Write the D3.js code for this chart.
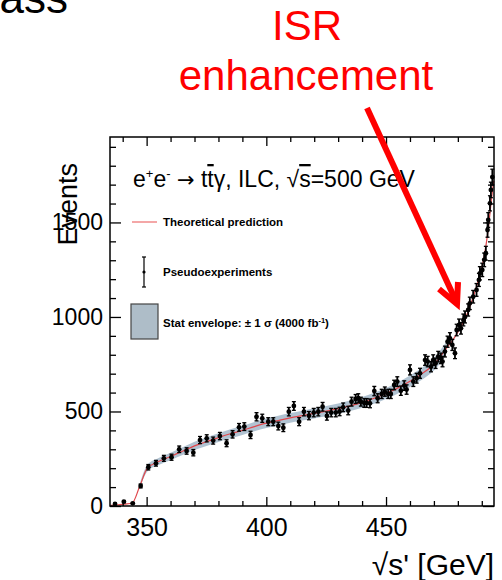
<!DOCTYPE html>
<html><head><meta charset="utf-8">
<script src="https://cdn.jsdelivr.net/npm/d3@7"></script>
<style>
body{margin:0;background:#fff}
svg{display:block}
text{font-family:"Liberation Sans",Arial,Helvetica,sans-serif}
</style>
</head><body>
<svg id="c" width="502" height="580"></svg>
<script>
// ---- data ----
const pseudoX = [336.8,340.5,344.2,347.5,350.7,353.9,357.2,360.4,363.6,366.7,369.5,372.3,375.1,377.8,380.6,383.4,385.9,388.6,390.8,393.4,395.9,398.3,400.8,402.9,405.0,407.1,409.4,411.5,413.7,415.7,417.8,419.8,421.7,423.5,425.3,427.1,429.0,430.6,432.1,434.2,435.6,437.3,438.4,439.5,440.9,441.9,443.3,445.1,446.5,448.2,449.5,450.9,452.0,453.4,454.7,456.2,457.6,458.6,460.0,461.4,462.8,464.2,466.3,467.4,468.8,469.7,470.7,471.8,472.9,473.6,474.6,475.7,476.7,477.7,478.8,479.5,480.5,481.3,482.3,483.0,484.3,485.0,486.4,487.8,488.8,489.2,490.2,491.0,491.7,492.4,492.7,493.4,493.8,494.4];
const pseudoY = [11,23,14,106,205,226,252,258,300,291,282,349,358,346,370,332,379,416,420,376,472,464,446,446,423,414,499,529,446,499,478,494,499,525,476,494,494,500,522,505,552,566,570,552,545,545,543,608,570,593,605,593,593,640,658,610,637,616,720,658,676,702,772,764,737,772,755,790,781,764,817,869,887,852,808,931,958,940,984,1000,1037,1072,1107,1143,1196,1231,1249,1302,1337,1460,1513,1601,1672,1740];
const theoryX = [335,338,341,344,347,350.3,355,360,365,370,375,380,385,390,395,400,405,410,415,420,425,430,435,440,445,450,455,460,465,470,475,478,480,482,484,486,488,490,492,493,494,495];
const theoryY = [3,6,10,16,100,200,235,262,290,318,340,362,382,400,420,438,452,466,478,490,502,515,530,548,570,595,625,660,700,750,830,880,920,965,1020,1090,1170,1260,1400,1500,1620,1720];
const bandFrom = 351, bandTo = 475;
const xTickValues = [350,400,450];
const yTickValues = [0,500,1000,1500];
const xDomain = [334.7,495.1];
const yDomain = [0,1952];

// ---- layout ----
const svg = d3.select('#c');
const L=110, R=494, T=137, B=506;
const x = d3.scaleLinear().domain(xDomain).range([L,R]);
const y = d3.scaleLinear().domain(yDomain).range([B,T]);

// band (±1 sigma statistical envelope around the prediction)
const theory = theoryX.map((v,i)=>({x:v,y:theoryY[i]}));
const bandPts = theory.filter(d=>d.x>=bandFrom-4 && d.x<=bandTo+1);
svg.append('path')
  .datum(bandPts)
  .attr('d', d3.area().curve(d3.curveMonotoneX)
     .x(d=>x(d.x)).y0(d=>y(d.y-1.2*Math.sqrt(d.y))).y1(d=>y(d.y+1.2*Math.sqrt(d.y))))
  .attr('fill','#a3b9ca').attr('opacity',0.85);

// theory line
svg.append('path').datum(theory)
  .attr('d', d3.line().curve(d3.curveMonotoneX).x(d=>x(d.x)).y(d=>y(d.y)))
  .attr('fill','none').attr('stroke','#e0474c').attr('stroke-width',1.2);

// pseudo-experiments
const pts = pseudoX.map((v,i)=>({x:v,y:pseudoY[i],e:Math.sqrt(pseudoY[i])}));
const g = svg.append('g');
g.selectAll('line.eb').data(pts).join('line').attr('class','eb')
  .attr('x1',d=>x(d.x)).attr('x2',d=>x(d.x))
  .attr('y1',d=>y(d.y-d.e)).attr('y2',d=>y(d.y+d.e))
  .attr('stroke','#000').attr('stroke-width',1.8);
g.selectAll('line.c1').data(pts).join('line').attr('class','c1')
  .attr('x1',d=>x(d.x)-2).attr('x2',d=>x(d.x)+2)
  .attr('y1',d=>y(d.y+d.e)).attr('y2',d=>y(d.y+d.e))
  .attr('stroke','#000').attr('stroke-width',1.3);
g.selectAll('line.c2').data(pts).join('line').attr('class','c2')
  .attr('x1',d=>x(d.x)-2).attr('x2',d=>x(d.x)+2)
  .attr('y1',d=>y(d.y-d.e)).attr('y2',d=>y(d.y-d.e))
  .attr('stroke','#000').attr('stroke-width',1.3);
g.selectAll('circle').data(pts).join('circle')
  .attr('cx',d=>x(d.x)).attr('cy',d=>y(d.y)).attr('r',2.4).attr('fill','#000');

// axes
const minorX = d3.range(340,495,10).filter(v=>!xTickValues.includes(v));
const minorY = d3.range(100,1951,100).filter(v=>!yTickValues.includes(v));
function styleAxis(sel){ sel.select('.domain').remove(); sel.selectAll('line').attr('stroke','#000').attr('stroke-width',1.3); }
svg.append('g').attr('transform',`translate(0,${B})`)
  .call(d3.axisBottom(x).tickValues(xTickValues).tickSize(-9).tickPadding(12).tickFormat(d3.format('d')))
  .call(styleAxis).call(s=>s.selectAll('text').attr('font-size',25).attr('fill','#000').attr('font-family','"Liberation Sans",Arial,sans-serif'));
svg.append('g').attr('transform',`translate(0,${B})`)
  .call(d3.axisBottom(x).tickValues(minorX).tickSize(-5).tickFormat('')).call(styleAxis);
svg.append('g').attr('transform',`translate(0,${T})`)
  .call(d3.axisTop(x).tickValues(xTickValues).tickSize(-9).tickFormat('')).call(styleAxis);
svg.append('g').attr('transform',`translate(0,${T})`)
  .call(d3.axisTop(x).tickValues(minorX).tickSize(-5).tickFormat('')).call(styleAxis);
svg.append('g').attr('transform',`translate(${L},0)`)
  .call(d3.axisLeft(y).tickValues(yTickValues).tickSize(-11).tickPadding(7).tickFormat(d3.format('d')))
  .call(styleAxis).call(s=>s.selectAll('text').attr('font-size',23).attr('fill','#000').attr('font-family','"Liberation Sans",Arial,sans-serif'));
svg.append('g').attr('transform',`translate(${L},0)`)
  .call(d3.axisLeft(y).tickValues(minorY).tickSize(-6).tickFormat('')).call(styleAxis);
svg.append('g').attr('transform',`translate(${R},0)`)
  .call(d3.axisRight(y).tickValues(yTickValues).tickSize(-11).tickFormat('')).call(styleAxis);
svg.append('g').attr('transform',`translate(${R},0)`)
  .call(d3.axisRight(y).tickValues(minorY).tickSize(-6).tickFormat('')).call(styleAxis);

// frame
svg.append('rect').attr('x',L).attr('y',T).attr('width',R-L).attr('height',B-T)
  .attr('fill','none').attr('stroke','#000').attr('stroke-width',1.5);

// axis titles
svg.append('text').attr('transform','translate(77,163) rotate(-90)').attr('text-anchor','end')
  .attr('font-size',27).text('Events');
svg.append('text').attr('x',494).attr('y',575).attr('text-anchor','end').attr('font-size',30)
  .text("\u221As' [GeV]");

// process title
const tt = svg.append('text').attr('x',133).attr('y',187).attr('font-size',23);
tt.append('tspan').text('e');
tt.append('tspan').attr('font-size',13).attr('dy',-9).text('+');
tt.append('tspan').attr('dy',9).text('e');
tt.append('tspan').attr('font-size',13).attr('dy',-9).text('-');
tt.append('tspan').attr('dy',9).text(' ');
tt.append('tspan').attr('font-family','"DejaVu Sans"').attr('font-size',21).text('\u2192');
tt.append('tspan').text(' t');
tt.append('tspan').style('text-decoration','overline').text('t');
tt.append('tspan').text('\u03B3, ILC, \u221A');
tt.append('tspan').style('text-decoration','overline').text('s');
tt.append('tspan').text('=500 GeV');

// legend
svg.append('line').attr('x1',132).attr('x2',157).attr('y1',222).attr('y2',222)
  .attr('stroke','#f08a8a').attr('stroke-width',1.5);
svg.append('text').attr('x',163).attr('y',226).attr('font-size',11.5).attr('font-weight','bold').text('Theoretical prediction');
svg.append('line').attr('x1',144).attr('x2',144).attr('y1',257).attr('y2',287).attr('stroke','#000').attr('stroke-width',1.2);
svg.append('line').attr('x1',142).attr('x2',146).attr('y1',257).attr('y2',257).attr('stroke','#000').attr('stroke-width',1.2);
svg.append('line').attr('x1',142).attr('x2',146).attr('y1',287).attr('y2',287).attr('stroke','#000').attr('stroke-width',1.2);
svg.append('circle').attr('cx',144).attr('cy',272).attr('r',1.6).attr('fill','#000');
svg.append('text').attr('x',163).attr('y',276).attr('font-size',11.5).attr('font-weight','bold').text('Pseudoexperiments');
svg.append('rect').attr('x',131).attr('y',304).attr('width',27).attr('height',35)
  .attr('fill','#aebdc8').attr('stroke','#444').attr('stroke-width',1.2);
const st = svg.append('text').attr('x',163).attr('y',327).attr('font-size',11.5).attr('font-weight','bold');
st.append('tspan').text('Stat envelope: \u00B1 1 \u03C3 (4000 fb');
st.append('tspan').attr('font-size',7.5).attr('dy',-4).text('-1');
st.append('tspan').attr('dy',4).text(')');

// cut-off slide text at top-left (cropped in the reference too)
svg.append('text').attr('x',68).attr('y',13).attr('text-anchor','end').attr('font-size',44).text('mass');

// annotation
svg.append('text').attr('x',307).attr('y',40).attr('text-anchor','middle').attr('font-size',42).attr('fill','#ff0000').text('ISR');
svg.append('text').attr('x',306).attr('y',90).attr('text-anchor','middle').attr('font-size',42).attr('fill','#ff0000').text('enhancement');
const arrow = svg.append('g').attr('stroke','#ff0000').attr('stroke-width',6).attr('stroke-linecap','butt').attr('fill','none');
arrow.append('line').attr('x1',367).attr('y1',108).attr('x2',455).attr('y2',299);
arrow.append('polyline').attr('points','439,289 457,304 458,282').attr('stroke-linejoin','miter');
</script>
</body></html>
